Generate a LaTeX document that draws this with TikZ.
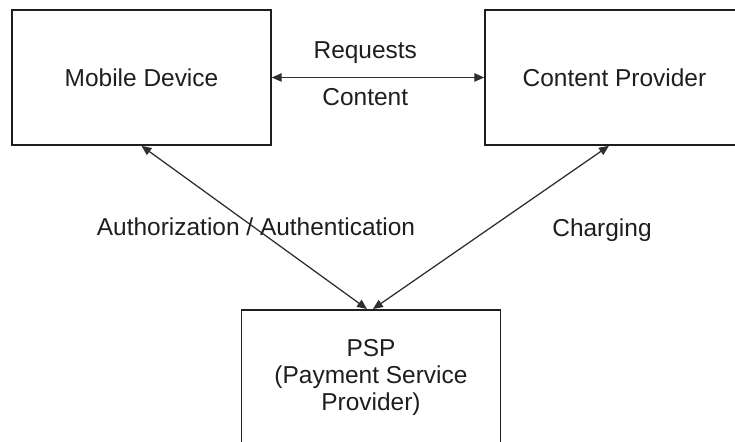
\documentclass[tikz,border=0pt]{standalone}
\usepackage{fontspec}
\setmainfont{Liberation Sans}
\usepackage{tikz}
\usetikzlibrary{positioning, arrows.meta, calc}
\definecolor{frameDark}{HTML}{1E1E1E}
\definecolor{linkDark}{HTML}{2E2E2E}

\begin{document}
\begin{tikzpicture}[
  every node/.style={font=\fontsize{17.4}{19}\selectfont},
  agentbox/.style={
    rectangle, draw=frameDark, line width=1.2pt,
    minimum width=6.475cm, minimum height=3.375cm,
    inner sep=0pt, text=frameDark, align=center
  },
  flowlabel/.style={text=frameDark, inner sep=1pt},
  linkarrow/.style={
    draw=linkDark, line width=0.9pt,
    {Triangle[length=7pt, width=6pt]}-{Triangle[length=7pt, width=6pt]}
  },
]
\useasboundingbox (0,0) rectangle (18.375,11.05);
\clip (0,0) rectangle (18.375,11.05);

% === PARTIES ===
\node[agentbox] (mobile) at (3.5375,9.1125) {Mobile Device};
\node[agentbox] (content) at (15.3625,9.1125) {Content Provider};
\node[agentbox, anchor=north] (psp) at (9.275,3.325) {PSP\\(Payment Service\\Provider)};

% === REQUEST / DELIVERY ===
\draw[linkarrow] (mobile.east)
  -- node[flowlabel, pos=0.44, yshift=0.63cm] (reqlbl) {Requests}
     node[flowlabel, pos=0.44, yshift=-0.5cm] (cntlbl) {Content}
  (content.west);

% === PAYMENT LINKS ===
\draw[linkarrow] (mobile.south) -- ($(psp.north)+(-0.1,0)$);
\draw[linkarrow] ($(content.south)+(-0.14,0)$) -- ($(psp.north)+(0.05,0)$);

\node[flowlabel] (authlbl) at (6.4,5.375) {Authorization / Authentication};
\node[flowlabel] (chglbl) at (15.05,5.29) {Charging};

\end{tikzpicture}
\end{document}
